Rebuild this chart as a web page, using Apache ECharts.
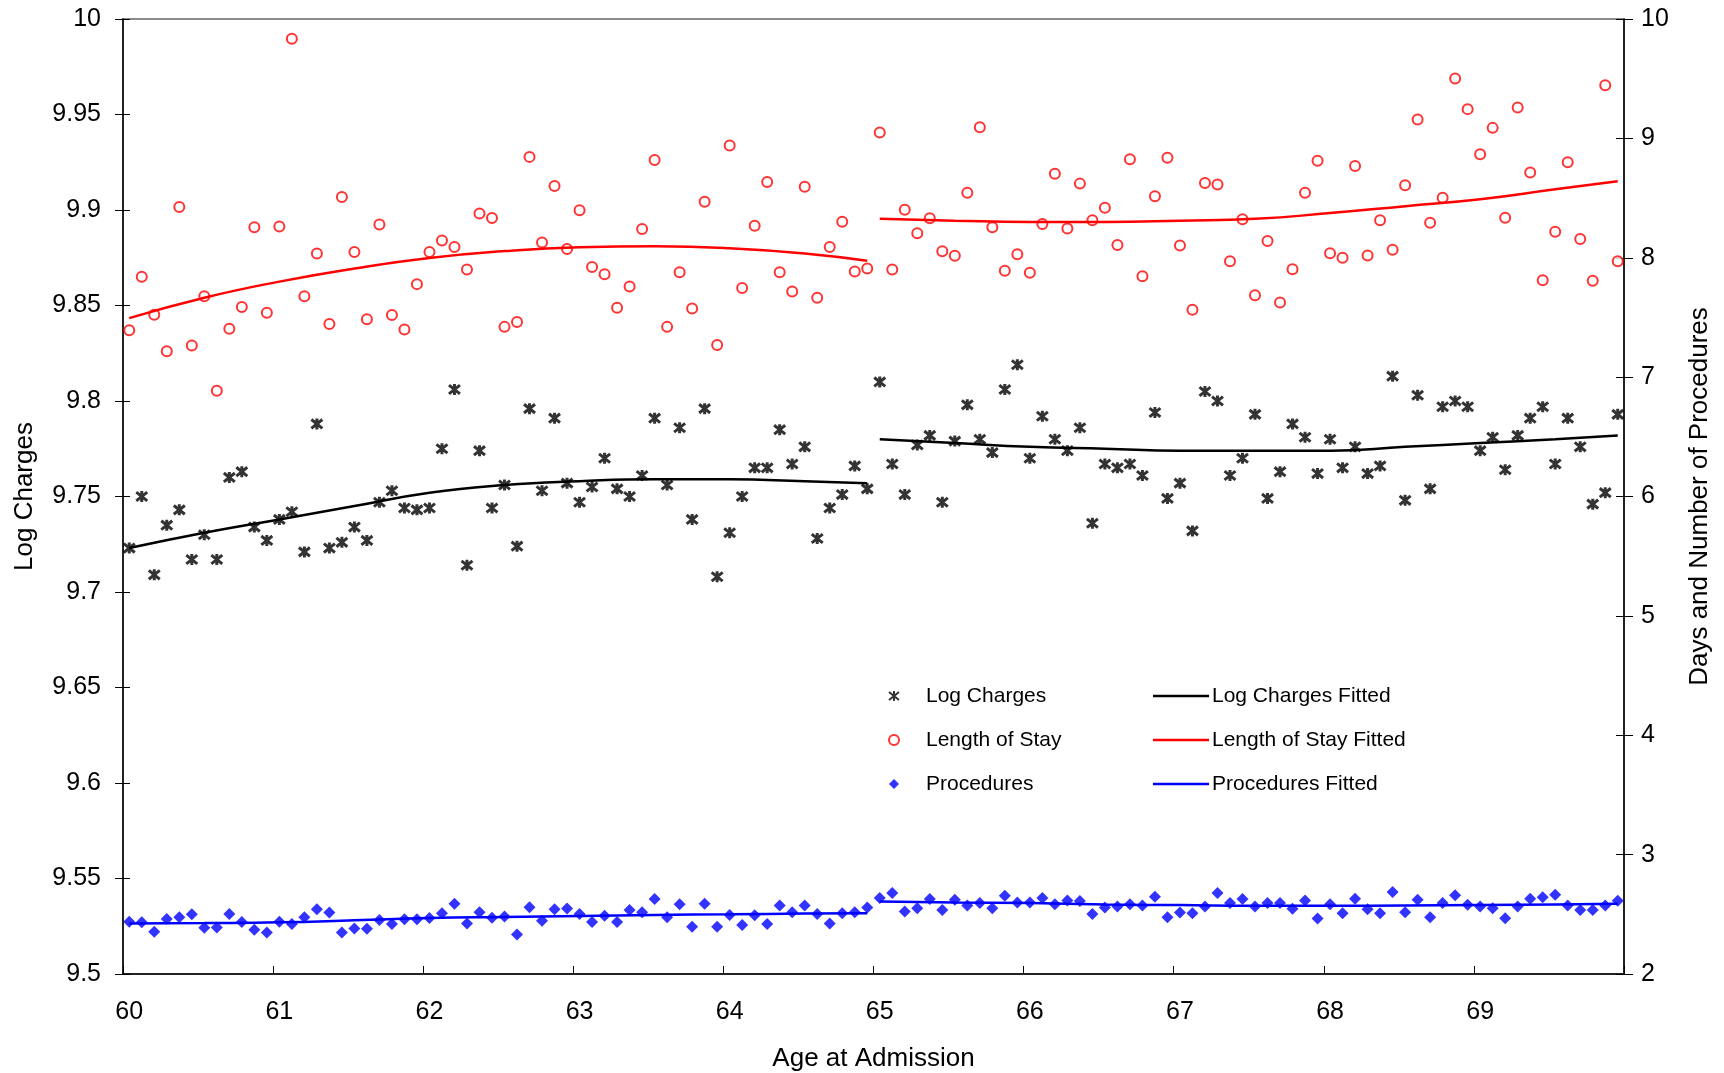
<!DOCTYPE html>
<html>
<head>
<meta charset="utf-8">
<script src="https://cdn.jsdelivr.net/npm/echarts@6/dist/echarts.min.js"></script>
<style>html,body{margin:0;padding:0;background:#fff}#c{width:1724px;height:1073px}</style>
</head>
<body>
<div id="c"></div>
<script>
// ---- Data ----
const yearLabels = ['60','61','62','63','64','65','66','67','68','69'];
const categories = [];
yearLabels.forEach(function (y) { for (let m = 0; m < 12; m++) categories.push(m === 0 ? y : y + '.' + m); });

const logCharges = [
  9.723, 9.750, 9.709, 9.735, 9.743, 9.717, 9.730, 9.717, 9.760, 9.763, 9.734, 9.727,
  9.738, 9.742, 9.721, 9.788, 9.723, 9.726, 9.734, 9.727, 9.747, 9.753, 9.744, 9.743,
  9.744, 9.775, 9.806, 9.714, 9.774, 9.744, 9.756, 9.724, 9.796, 9.753, 9.791, 9.757,
  9.747, 9.755, 9.770, 9.754, 9.750, 9.761, 9.791, 9.756, 9.786, 9.738, 9.796, 9.708,
  9.731, 9.750, 9.765, 9.765, 9.785, 9.767, 9.776, 9.728, 9.744, 9.751, 9.766, 9.754,
  9.810, 9.767, 9.751, 9.777, 9.782, 9.747, 9.779, 9.798, 9.780, 9.773, 9.806, 9.819,
  9.770, 9.792, 9.780, 9.774, 9.786, 9.736, 9.767, 9.765, 9.767, 9.761, 9.794, 9.749,
  9.757, 9.732, 9.805, 9.800, 9.761, 9.770, 9.793, 9.749, 9.763, 9.788, 9.781, 9.762,
  9.780, 9.765, 9.776, 9.762, 9.766, 9.813, 9.748, 9.803, 9.754, 9.797, 9.800, 9.797,
  9.774, 9.781, 9.764, 9.782, 9.791, 9.797, 9.767, 9.791, 9.776, 9.746, 9.752, 9.793
];
const lengthOfStay = [
  7.392, 7.840, 7.523, 7.216, 8.426, 7.264, 7.677, 6.886, 7.405, 7.587, 8.256, 7.539,
  8.262, 9.834, 7.677, 8.035, 7.446, 8.509, 8.048, 7.485, 8.278, 7.520, 7.398, 7.779,
  8.048, 8.144, 8.090, 7.901, 8.371, 8.333, 7.421, 7.462, 8.845, 8.128, 8.602, 8.074,
  8.397, 7.923, 7.862, 7.581, 7.760, 8.240, 8.819, 7.421, 7.878, 7.574, 8.470, 7.270,
  8.941, 7.747, 8.269, 8.634, 7.878, 7.718, 8.595, 7.664, 8.090, 8.301, 7.885, 7.910,
  9.050, 7.901, 8.403, 8.205, 8.330, 8.054, 8.016, 8.544, 9.094, 8.256, 7.891, 8.029,
  7.875, 8.282, 8.704, 8.246, 8.621, 8.314, 8.419, 8.106, 8.826, 7.846, 8.515, 8.838,
  8.102, 7.565, 8.627, 8.614, 7.971, 8.323, 7.686, 8.141, 7.626, 7.904, 8.544, 8.813,
  8.038, 8.000, 8.768, 8.019, 8.314, 8.067, 8.608, 9.158, 8.294, 8.502, 9.501, 9.245,
  8.867, 9.088, 8.336, 9.258, 8.714, 7.811, 8.218, 8.800, 8.157, 7.808, 9.446, 7.971
];
const procedures = [
  2.438, 2.433, 2.353, 2.461, 2.475, 2.500, 2.387, 2.390, 2.503, 2.435, 2.370, 2.348,
  2.438, 2.418, 2.475, 2.543, 2.515, 2.348, 2.382, 2.379, 2.452, 2.418, 2.458, 2.458,
  2.469, 2.509, 2.588, 2.424, 2.517, 2.472, 2.481, 2.331, 2.560, 2.447, 2.543, 2.548,
  2.503, 2.435, 2.489, 2.435, 2.537, 2.517, 2.628, 2.475, 2.585, 2.396, 2.588, 2.396,
  2.495, 2.410, 2.492, 2.418, 2.574, 2.517, 2.574, 2.503, 2.424, 2.509, 2.517, 2.557,
  2.636, 2.679, 2.523, 2.551, 2.628, 2.537, 2.622, 2.574, 2.594, 2.551, 2.656, 2.599,
  2.599, 2.636, 2.585, 2.616, 2.611, 2.503, 2.557, 2.565, 2.585, 2.574, 2.647, 2.475,
  2.515, 2.509, 2.565, 2.679, 2.594, 2.628, 2.565, 2.594, 2.594, 2.546, 2.616, 2.464,
  2.585, 2.509, 2.630, 2.543, 2.509, 2.687, 2.517, 2.622, 2.475, 2.594, 2.659, 2.580,
  2.565, 2.551, 2.466, 2.565, 2.630, 2.642, 2.664, 2.574, 2.537, 2.537, 2.574, 2.613
];

// fitted curves, read at half-year positions (category index)
const fitIdx1 = [0, 6, 12, 18, 24, 30, 36, 42, 48, 54, 59];
const fitIdx2 = [60, 66, 72, 78, 84, 90, 96, 102, 108, 114, 119];
const logFit1 = [9.723, 9.731, 9.738, 9.745, 9.752, 9.756, 9.758, 9.759, 9.759, 9.758, 9.757];
const logFit2 = [9.780, 9.778, 9.776, 9.775, 9.774, 9.774, 9.774, 9.776, 9.778, 9.780, 9.782];
const losFit1 = [7.494, 7.665, 7.800, 7.910, 7.998, 8.056, 8.088, 8.096, 8.080, 8.035, 7.974];
const losFit2 = [8.326, 8.310, 8.300, 8.300, 8.310, 8.326, 8.374, 8.432, 8.490, 8.573, 8.640];
const procFit1 = [2.424, 2.427, 2.433, 2.450, 2.469, 2.478, 2.486, 2.495, 2.500, 2.506, 2.509];
const procFit2 = [2.608, 2.599, 2.594, 2.582, 2.577, 2.571, 2.571, 2.574, 2.577, 2.582, 2.588];

// ---- Chart ----
const FONT = '"Liberation Sans", Arial, sans-serif';
const starPath = 'path://M0,1L10,9M10,1L0,9M5,0L5,10';
function pairs(idx, vals) { return idx.map(function (k, j) { return [k, vals[j]]; }); }
function fitSeries(name, idx, vals, color, yIdx) {
  return { name: name, type: 'line', yAxisIndex: yIdx, data: pairs(idx, vals), smooth: true,
    symbol: 'none', showSymbol: false, lineStyle: { color: color, width: 2.5 }, itemStyle: { color: color },
    z: 5, silent: true, animation: false };
}
const nameText = { color: '#000', fontFamily: FONT, fontSize: 26 };
const tickText = { color: '#000', fontFamily: FONT, fontSize: 25 };
const G = { left: 123, right: 100, top: 19, bottom: 99, containLabel: false, outerBoundsMode: 'none' };

const chart = echarts.init(document.getElementById('c'), null, { renderer: 'canvas' });
chart.setOption({
  animation: false,
  backgroundColor: '#fff',
  grid: [
    Object.assign({ show: true, borderColor: '#8c8c8c', borderWidth: 2 }, G),
    Object.assign({ show: false }, G)
  ],
  legend: [
    { orient: 'vertical', left: 883, top: 679, itemWidth: 10, itemHeight: 10, itemGap: 20,
      textStyle: { color: '#000', fontFamily: FONT, fontSize: 21, lineHeight: 24, padding: [0, 0, 0, 22] },
      data: [ { name: 'Log Charges', icon: starPath }, { name: 'Length of Stay', icon: 'emptyCircle' }, { name: 'Procedures', icon: 'diamond' } ] },
    { orient: 'vertical', left: 1148, top: 679, itemWidth: 56, itemHeight: 2.5, itemGap: 20, icon: 'rect',
      textStyle: { color: '#000', fontFamily: FONT, fontSize: 21, lineHeight: 24, padding: [0, 0, 0, -2] },
      data: [ { name: 'Log Charges Fitted', icon: 'rect' }, { name: 'Length of Stay Fitted', icon: 'rect' }, { name: 'Procedures Fitted', icon: 'rect' } ] }
  ],
  xAxis: [
    { type: 'category', gridIndex: 0, data: categories, boundaryGap: true, position: 'bottom',
      axisLine: { lineStyle: { color: '#000', width: 1.5 } },
      axisTick: { interval: 11, length: 8, lineStyle: { color: '#000', width: 1 } },
      axisLabel: Object.assign({ interval: 11, margin: 26 }, tickText),
      splitLine: { show: false },
      name: 'Age at Admission', nameLocation: 'middle', nameGap: 72, nameTextStyle: nameText },
    { type: 'category', gridIndex: 1, data: categories, boundaryGap: true, position: 'bottom',
      axisLine: { show: false }, axisLabel: { show: false }, splitLine: { show: false },
      axisTick: { show: true, interval: 11, inside: true, length: 8, lineStyle: { color: '#000', width: 1 } } }
  ],
  yAxis: [
    { type: 'value', gridIndex: 0, min: 9.5, max: 10, interval: 0.05, position: 'left',
      axisLine: { show: true, lineStyle: { color: '#000', width: 1.5 } },
      axisTick: { show: true, length: 8, lineStyle: { color: '#000' } },
      axisLabel: Object.assign({ margin: 22 }, tickText),
      splitLine: { show: false },
      name: 'Log Charges', nameLocation: 'middle', nameRotate: 90, nameGap: 85, nameTextStyle: nameText },
    { type: 'value', gridIndex: 0, min: 2, max: 10, interval: 1, position: 'right',
      axisLine: { show: true, lineStyle: { color: '#000', width: 1.5 } },
      axisTick: { show: true, length: 9, lineStyle: { color: '#000' } },
      axisLabel: Object.assign({ margin: 17 }, tickText),
      splitLine: { show: false },
      name: 'Days and Number of Procedures', nameLocation: 'middle', nameRotate: 90, nameGap: 63, nameTextStyle: nameText },
    { type: 'value', gridIndex: 1, min: 9.5, max: 10, interval: 0.05, position: 'left',
      axisLine: { show: false }, axisLabel: { show: false }, splitLine: { show: false },
      axisTick: { show: true, inside: true, length: 7, lineStyle: { color: '#000' } } },
    { type: 'value', gridIndex: 1, min: 2, max: 10, interval: 1, position: 'right',
      axisLine: { show: false }, axisLabel: { show: false }, splitLine: { show: false },
      axisTick: { show: true, inside: true, length: 8, lineStyle: { color: '#000' } } }
  ],
  series: [
    { name: 'Log Charges', type: 'scatter', yAxisIndex: 0, data: logCharges, symbol: starPath, symbolSize: 11,
      itemStyle: { color: '#000', borderColor: '#000', borderWidth: 3 }, z: 3 },
    { name: 'Length of Stay', type: 'scatter', yAxisIndex: 1, data: lengthOfStay, symbol: 'emptyCircle', symbolSize: 10,
      itemStyle: { color: '#ff0000', borderColor: '#ff0000', borderWidth: 2.4 }, z: 3 },
    { name: 'Procedures', type: 'scatter', yAxisIndex: 1, data: procedures, symbol: 'diamond', symbolSize: 12,
      itemStyle: { color: '#0000ff' }, z: 3 },
    fitSeries('Log Charges Fitted', fitIdx1, logFit1, '#000', 0),
    fitSeries('Log Charges Fitted', fitIdx2, logFit2, '#000', 0),
    fitSeries('Length of Stay Fitted', fitIdx1, losFit1, '#ff0000', 1),
    fitSeries('Length of Stay Fitted', fitIdx2, losFit2, '#ff0000', 1),
    fitSeries('Procedures Fitted', fitIdx1, procFit1, '#0000ff', 1),
    fitSeries('Procedures Fitted', fitIdx2, procFit2, '#0000ff', 1),
    { type: 'scatter', xAxisIndex: 1, yAxisIndex: 2, data: [], silent: true },
    { type: 'scatter', xAxisIndex: 1, yAxisIndex: 3, data: [], silent: true }
  ]
});
</script>
</body>
</html>
